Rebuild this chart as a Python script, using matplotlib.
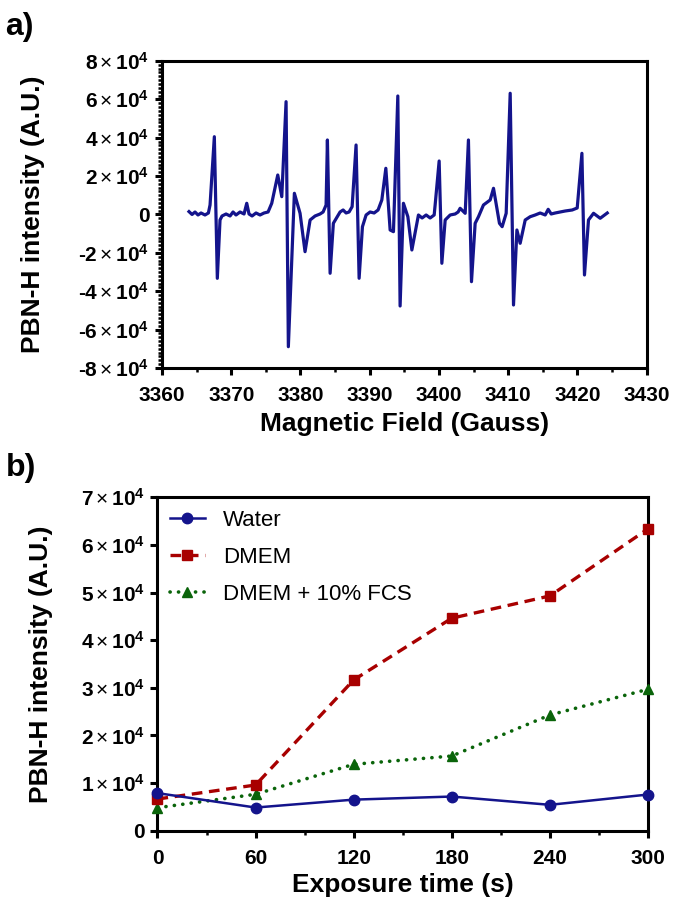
import matplotlib
matplotlib.use('Agg')
import matplotlib.pyplot as plt
from matplotlib.ticker import MultipleLocator, FuncFormatter

plt.rcParams['font.family'] = ['Liberation Sans', 'DejaVu Sans']
plt.rcParams['mathtext.fontset'] = 'custom'
plt.rcParams['mathtext.rm'] = 'Liberation Sans'
plt.rcParams['mathtext.bf'] = 'Liberation Sans:bold'

# a) EPR spectrum, vertices
field = [3363.90, 3364.34, 3364.77, 3365.20, 3365.64, 3366.21, 3366.70, 3366.94,
         3367.56, 3367.99, 3368.38, 3368.67, 3369.25, 3369.83, 3370.26, 3370.69,
         3371.27, 3371.85, 3372.24, 3372.57, 3373.01, 3373.58, 3374.16, 3374.74,
         3375.32, 3375.85, 3376.72, 3377.30, 3377.92, 3378.25, 3379.12, 3379.94,
         3380.66, 3381.39, 3382.11, 3382.83, 3383.27, 3383.70, 3383.89, 3384.28,
         3384.75, 3385.29, 3385.72, 3386.16, 3386.59, 3387.02, 3387.46, 3388.03,
         3388.47, 3388.95, 3389.48, 3390.06, 3390.64, 3391.21, 3391.75, 3392.33,
         3392.95, 3393.43, 3394.06, 3394.39, 3394.87, 3395.51, 3396.09, 3397.04,
         3397.57, 3398.15, 3398.73, 3399.31, 3399.45, 3400.03, 3400.42, 3400.90,
         3401.62, 3402.34, 3402.77, 3403.06, 3403.79, 3404.26, 3404.70, 3405.23,
         3405.71, 3406.43, 3407.40, 3407.88, 3408.74, 3409.13, 3409.71, 3410.29,
         3410.77, 3411.26, 3411.73, 3412.46, 3413.18, 3413.90, 3414.62, 3415.35,
         3415.78, 3416.21, 3416.79, 3417.51, 3418.24, 3419.25, 3419.97, 3420.65,
         3421.02, 3421.60, 3422.33, 3423.29, 3424.31]
signal = [1500, 0, 1300, -260, 780, -260, 780, 4950,
          40540, -33250, -2870, -780, 260, -780, 1300, -260,
          1300, 260, 5840, 260, -780, 780, -260, 780,
          1300, 5840, 20580, 9280, 58780, -68890, 11050, 625,
          -19390, -2870, -780, 260, 1300, 4950, 38820, -30640,
          -4590, -1300, 1300, 2350, 780, 1300, 4060, 36220,
          -33250, -6360, -260, 1300, 780, 2350, 7560, 24080,
          -8080, -8960, 61750, -47680, 5840, -1150, -18500, -260,
          -1820, -260, -1820, -260, 4950, 27880, -25430, -2870,
          -260, 260, 1300, 3230, 625, 38820, -35020, -4590,
          -1150, 4950, 7560, 13650, -4590, -6360, 625, 63160,
          -47160, -8080, -15010, -2870, -1150, -260, 780, -260,
          2700, 260, 780, 1300, 1820, 2350, 3390, 31890,
          -31530, -2870, 625, -1980, 780]

# b) PBN-H intensity vs exposure time
time_s = [0, 60, 120, 180, 240, 300]
water = [7900, 4870, 6530, 7180, 5440, 7600]
dmem = [6660, 9600, 31660, 44620, 49300, 63380]
dmem_fcs = [4830, 7650, 13950, 15690, 24300, 29700]

navy = '#14148c'
red = '#a80000'
green = '#0a640a'


def sci_fmt(v, pos):
    m = int(round(v / 1e4))
    if m == 0:
        return '0'
    sign = '-' if m < 0 else ''
    return sign + r'$\mathbf{%d}\,{\times}\,\mathbf{10^{4}}$' % abs(m)


def style_axes(ax):
    for s in ax.spines.values():
        s.set_linewidth(2.2)
    ax.tick_params(which='major', direction='out', length=5, width=2.2,
                   labelsize=15)
    ax.tick_params(axis='x', which='major', pad=8)
    ax.tick_params(axis='y', which='major', pad=4)
    ax.tick_params(which='minor', direction='out', length=3, width=1.8)
    for lab in ax.get_xticklabels() + ax.get_yticklabels():
        lab.set_fontweight('bold')


fig = plt.figure(figsize=(6.75, 9.1), dpi=100)

ax1 = fig.add_axes([0.240, 0.5956, 0.718, 0.3374])
ax1.plot(field, signal, color=navy, lw=2.3)
ax1.set_xlim(3360, 3430)
ax1.set_ylim(-8e4, 8e4)
ax1.xaxis.set_major_locator(MultipleLocator(10))
ax1.xaxis.set_minor_locator(MultipleLocator(5))
ax1.yaxis.set_major_locator(MultipleLocator(2e4))
ax1.yaxis.set_minor_locator(MultipleLocator(2e3))
ax1.yaxis.set_major_formatter(FuncFormatter(sci_fmt))
style_axes(ax1)
ax1.set_xlabel('Magnetic Field (Gauss)', fontsize=19, fontweight='bold', labelpad=5)
ax1.set_ylabel('PBN-H intensity (A.U.)', fontsize=19, fontweight='bold', labelpad=24)

ax2 = fig.add_axes([0.2333, 0.0871, 0.7267, 0.3664])
ax2.plot(time_s, water, color=navy, lw=1.8, marker='o', ms=7.5,
         label='Water', clip_on=False, zorder=5)
ax2.plot(time_s, dmem, color=red, lw=2.4, marker='s', ms=7.5,
         dashes=(3.2, 2.0), label='DMEM', clip_on=False, zorder=4)
ax2.plot(time_s, dmem_fcs, color=green, lw=2.6, marker='^', ms=7.5,
         dashes=(0.05, 2.3), dash_capstyle='round', label='DMEM + 10% FCS',
         clip_on=False, zorder=3)
ax2.set_xlim(0, 300)
ax2.set_ylim(0, 7e4)
ax2.xaxis.set_major_locator(MultipleLocator(60))
ax2.xaxis.set_minor_locator(MultipleLocator(30))
ax2.yaxis.set_major_locator(MultipleLocator(1e4))
ax2.yaxis.set_major_formatter(FuncFormatter(sci_fmt))
style_axes(ax2)
ax2.set_xlabel('Exposure time (s)', fontsize=19, fontweight='bold', labelpad=4)
ax2.set_ylabel('PBN-H intensity (A.U.)', fontsize=19, fontweight='bold', labelpad=20)
ax2.legend(loc='upper left', frameon=False, fontsize=16, handlelength=1.6,
           handletextpad=0.8, labelspacing=0.72, borderaxespad=0.15)

fig.text(0.008, 0.970, 'a)', fontsize=23, fontweight='bold', va='center')
fig.text(0.008, 0.486, 'b)', fontsize=23, fontweight='bold', va='center')

fig.savefig('out.png', dpi=100)
